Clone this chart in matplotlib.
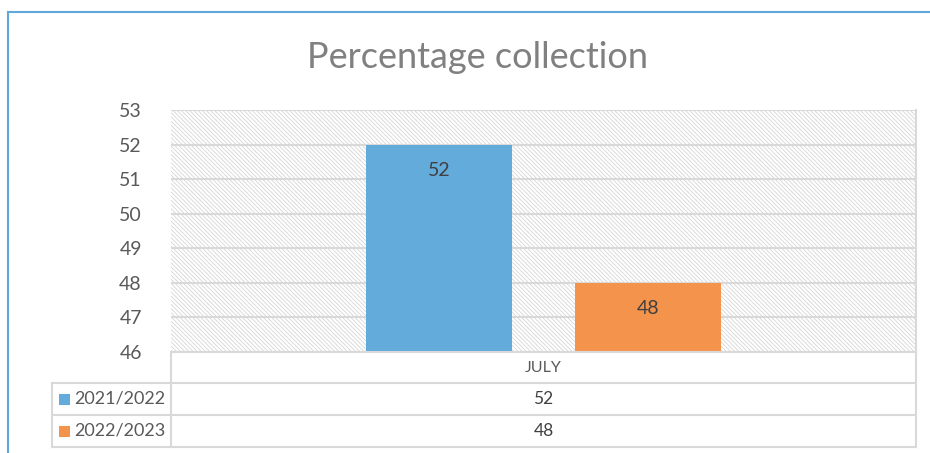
import matplotlib.pyplot as plt
from matplotlib.patches import Rectangle
from matplotlib.lines import Line2D

# Data
category = "JULY"
series = ["2021/2022", "2022/2023"]
values = [52, 48]
colors = ["#63abdb", "#f4944c"]
yticks = [46, 47, 48, 49, 50, 51, 52, 53]

plt.rcParams['font.family'] = ['Lato', 'DejaVu Sans']
plt.rcParams['hatch.linewidth'] = 0.6

W, H = 930, 453
fig = plt.figure(figsize=(W / 100, H / 100), dpi=100)

def fx(px):
    return px / W

def fy(py):
    return 1 - py / H

# plot area
left, right, top, bottom = 171, 916, 110, 352
ax = fig.add_axes([fx(left), fy(bottom), fx(right - left), fy(top) - fy(bottom)])
ax.add_patch(Rectangle((0, 0), 1, 1, transform=ax.transAxes, facecolor='white',
                       edgecolor='#d6d6d6', linewidth=0, hatch='\\' * 8, zorder=0))

grey = '#d9d9d9'
for t in yticks:
    ax.axhline(t, color=grey, lw=1.5, zorder=1)

x = [-0.365, 0.365]
ax.bar(x, [v - yticks[0] for v in values], bottom=yticks[0], width=0.51,
       color=colors, zorder=3)
for xi, v in zip(x, values):
    ax.text(xi, v - 0.75, str(v), ha='center', va='center', fontsize=14,
            color='#404040', zorder=4)

ax.set_xlim(-1.3, 1.3)
ax.set_ylim(yticks[0], yticks[-1])
ax.set_yticks(yticks)
ax.set_xticks([])
ax.tick_params(axis='y', length=0, labelsize=14, labelcolor='#595959', pad=21)
for s in ax.spines.values():
    s.set_visible(False)

# title
fig.text(fx(477), fy(57), "Percentage collection", ha='center', va='center',
         fontsize=26, color='#808080')

# data table
def hline(y, x0, x1):
    fig.add_artist(Line2D([fx(x0), fx(x1)], [fy(y), fy(y)], color=grey, lw=1.5))

def vline(xp, y0, y1):
    fig.add_artist(Line2D([fx(xp), fx(xp)], [fy(y0), fy(y1)], color=grey, lw=1.5))

row_edges = [352, 383, 415, 447]
hline(row_edges[0], left, right)
for y in row_edges[1:]:
    hline(y, 52, right)
vline(left, row_edges[0], row_edges[-1])
vline(right, top, row_edges[-1])
vline(52, row_edges[1], row_edges[-1])

fig.text(fx((left + right) / 2), fy((row_edges[0] + row_edges[1]) / 2), category,
         ha='center', va='center', fontsize=11.5, color='#595959')
for i, (name, v, c) in enumerate(zip(series, values, colors)):
    yc = (row_edges[i + 1] + row_edges[i + 2]) / 2
    fig.add_artist(Rectangle((fx(59), fy(yc + 5.5)), fx(11), fy(yc - 5.5) - fy(yc + 5.5),
                             facecolor=c, edgecolor='none'))
    fig.text(fx(74), fy(yc), name, ha='left', va='center', fontsize=13, color='#595959')
    fig.text(fx((left + right) / 2), fy(yc), str(v), ha='center', va='center',
             fontsize=12.5, color='#404040')

# chart outer border
border = '#5fa8dc'
fig.add_artist(Line2D([fx(8), 1], [fy(12), fy(12)], color=border, lw=1.5))
fig.add_artist(Line2D([fx(8), fx(8)], [fy(12), 0], color=border, lw=1.5))

fig.savefig('out.png', dpi=100)
